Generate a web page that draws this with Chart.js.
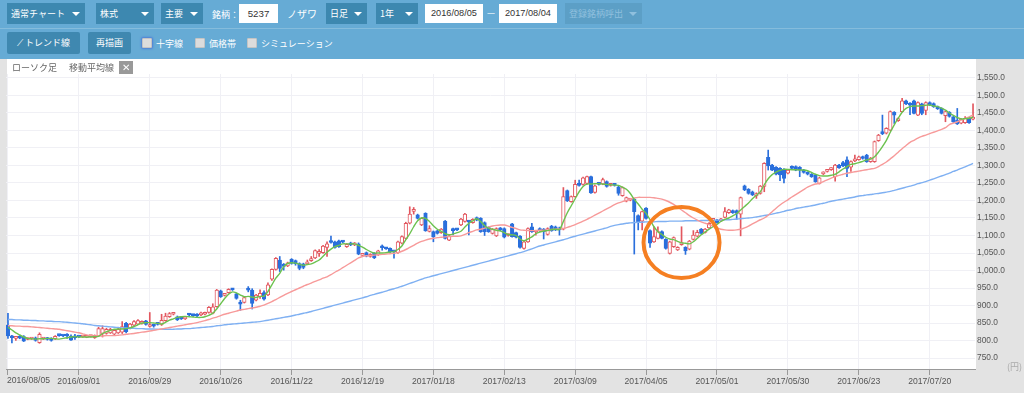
<!DOCTYPE html>
<html lang="ja">
<head>
<meta charset="utf-8">
<title>ローソク足</title>
<script src="https://cdn.jsdelivr.net/npm/chart.js@4"></script>
<style>
html, body { margin: 0; padding: 0; }
body {
    width: 1024px; height: 393px; overflow: hidden; position: relative;
    background: #e3e3e3;
    font-family: "Noto Sans CJK JP", "Liberation Sans", sans-serif;
    font-size: 9px; color: #fff;
}
.bar { position: absolute; left: 0; top: 0; width: 1024px; height: 59px; background: #66abd5; }
.rule { position: absolute; left: 0; top: 28px; width: 1024px; height: 1px; background: #85bcdc; }
.sel, .btn, .txt, .inp, .chk { position: absolute; box-sizing: border-box; white-space: nowrap; }
.sel { top: 3px; height: 21px; line-height: 21px; background: #3d88b0; padding-left: 4px; }
.sel::after {
    content: ""; position: absolute; right: 5px; top: 9px;
    border: 4px solid transparent; border-top: 4px solid #fff; border-bottom: 0;
}
.sel.off { background: #5c9fc6; color: #8fc0de; }
.sel.off::after { border-top-color: #8fc0de; }
.btn { top: 32px; height: 22px; line-height: 22px; background: #3f88b0; border-radius: 2px; text-align: center; }
.txt { line-height: 21px; }
.inp { top: 4px; height: 19px; line-height: 19px; background: #fff; color: #333; text-align: center; font-family: "Liberation Sans", sans-serif; font-size: 9.2px; }
.chk { top: 38px; width: 10px; height: 10px; background: #dcdcdc; border: 1px solid #c4c4c4; border-radius: 1px; }
.chk.focus { box-shadow: 0 0 2px 1px #4f7fd6; }
.plot { position: absolute; left: 7px; top: 59px; width: 969px; height: 310px; background: #fff; }
.tag { position: absolute; top: 61px; line-height: 13px; color: #666; font-size: 9px; }
.close {
    position: absolute; left: 119px; top: 61px; width: 14px; height: 13px; background: #999;
    color: #fff; text-align: center; line-height: 13px; font-size: 10px; font-family: "Liberation Sans", sans-serif;
}
.unit { position: absolute; left: 1007px; top: 361px; color: #aaa; font-size: 9px; line-height: 12px; }
canvas { position: absolute; left: 0; top: 0; }
</style>
</head>
<body>
<div class="bar"></div>
<div class="rule"></div>
<div class="sel" style="left:7px;width:78px">通常チャート</div>
<div class="sel" style="left:96px;width:58px">株式</div>
<div class="sel" style="left:161px;width:42px">主要</div>
<div class="txt" style="left:212px;top:4px">銘柄：</div>
<div class="inp" style="left:239px;width:39px;font-size:9.7px">5237</div>
<div class="txt" style="left:287px;top:3px;font-size:10px">ノザワ</div>
<div class="sel" style="left:326px;width:41px">日足</div>
<div class="sel" style="left:376px;width:42px">1年</div>
<div class="inp" style="left:425px;width:58px">2016/08/05</div>
<div class="txt" style="left:487px;top:2px">—</div>
<div class="inp" style="left:499px;width:58px">2017/08/04</div>
<div class="sel off" style="left:565px;width:77px">登録銘柄呼出</div>
<div class="btn" style="left:7px;width:73px">⟋ トレンド線</div>
<div class="btn" style="left:88px;width:43px">再描画</div>
<div class="chk focus" style="left:142px"></div>
<div class="txt" style="left:156px;top:33px">十字線</div>
<div class="chk" style="left:195px"></div>
<div class="txt" style="left:209px;top:33px">価格帯</div>
<div class="chk" style="left:247px"></div>
<div class="txt" style="left:261px;top:33px">シミュレーション</div>
<div class="plot"></div>
<canvas id="stockChart" width="1024" height="393"></canvas>
<div class="tag" style="left:12px">ローソク足</div>
<div class="tag" style="left:69px">移動平均線</div>
<div class="close">✕</div>
<div class="unit">(円)</div>
<script>
// one label every 18 sessions, starting at the first one
const tickLabels = ['2016/08/05', '2016/09/01', '2016/09/29', '2016/10/26', '2016/11/22', '2016/12/19', '2017/01/18',
    '2017/02/13', '2017/03/09', '2017/04/05', '2017/05/01', '2017/05/30', '2017/06/23', '2017/07/20'];
const tickEvery = 18;

const opens = [
    844,813,806,811,811,803,804,808,794,804,
    807,806,804,815,814,815,813,811,811,810,
    809,811,808,813,820,820,822,818,822,824,
    849,835,844,847,849,856,840,844,848,846,
    857,868,875,868,868,862,875,874,875,873,
    875,880,878,897,942,929,937,947,933,908,
    909,949,944,915,925,937,930,975,1003,1030,
    1014,1013,1032,1028,1020,1019,1019,1028,1036,1049,
    1051,1066,1082,1082,1085,1085,1068,1079,1073,1076,
    1043,1051,1040,1049,1045,1067,1064,1063,1055,1051,
    1078,1092,1135,1169,1159,1130,1163,1112,1111,1113,
    1108,1141,1087,1119,1118,1130,1140,1140,1137,1151,
    1149,1137,1123,1106,1099,1120,1120,1100,1133,1108,
    1098,1063,1082,1125,1110,1120,1118,1103,1127,1125,
    1122,1118,1228,1197,1211,1249,1246,1249,1268,1223,
    1249,1247,1254,1243,1245,1239,1214,1198,1201,1203,
    1157,1141,1178,1114,1082,1092,1111,1089,1049,1068,
    1059,1074,1066,1061,1089,1098,1118,1109,1122,1143,
    1144,1142,1152,1165,1171,1171,1161,1242,1232,1225,
    1213,1220,1240,1323,1301,1295,1292,1289,1278,1297,
    1297,1295,1287,1280,1275,1273,1249,1276,1283,1288,
    1268,1301,1308,1316,1295,1313,1317,1325,1330,1311,
    1311,1371,1394,1392,1401,1452,1428,1454,1485,1478,
    1485,1444,1476,1457,1480,1477,1468,1463,1442,1452,
    1439,1430,1421,1422,1435,1432
];
const closes = [
    813,808,809,807,798,805,806,800,818,806,
    803,800,812,814,813,813,801,808,810,811,
    813,812,815,834,834,832,832,829,832,840,
    825,847,854,857,853,846,843,841,846,858,
    870,877,876,859,862,866,873,871,870,879,
    879,895,896,944,925,931,946,945,920,904,
    923,944,906,930,935,918,959,1003,1035,1006,
    1012,1022,1020,1019,1006,1009,1025,1033,1057,1052,
    1070,1076,1080,1066,1068,1081,1075,1073,1078,1047,
    1046,1041,1046,1036,1056,1065,1062,1053,1053,1082,
    1097,1135,1161,1172,1149,1149,1114,1120,1097,1106,
    1118,1092,1099,1114,1116,1147,1161,1138,1146,1144,
    1111,1111,1111,1118,1120,1116,1095,1102,1097,1095,
    1066,1082,1120,1111,1113,1114,1111,1120,1114,1116,
    1116,1211,1199,1211,1246,1243,1265,1268,1222,1242,
    1246,1260,1240,1245,1243,1220,1237,1208,1202,1168,
    1137,1168,1149,1078,1097,1111,1092,1063,1082,1094,
    1066,1076,1056,1084,1101,1109,1106,1118,1135,1145,
    1137,1147,1168,1173,1165,1163,1208,1230,1220,1216,
    1220,1241,1306,1299,1287,1275,1273,1263,1287,1292,
    1287,1287,1280,1275,1268,1254,1265,1280,1286,1292,
    1301,1294,1299,1292,1311,1318,1325,1320,1311,1321,
    1368,1387,1391,1406,1454,1444,1434,1485,1476,1472,
    1449,1480,1449,1480,1473,1468,1462,1449,1454,1440,
    1425,1419,1432,1435,1422,1438
];
const highs = [
    878,815,810,814,814,807,808,810,822,808,
    809,808,814,816,815,820,816,818,812,812,
    815,813,816,838,842,835,835,832,835,854,
    852,849,857,860,856,858,880,846,849,875,
    878,880,878,870,869,868,877,875,877,881,
    881,897,905,946,944,933,948,949,935,915,
    926,954,948,932,945,942,965,1005,1037,1040,
    1020,1024,1034,1030,1022,1021,1030,1040,1059,1060,
    1072,1082,1098,1084,1087,1084,1077,1081,1080,1079,
    1048,1053,1048,1051,1058,1073,1066,1065,1056,1084,
    1099,1138,1182,1180,1161,1151,1165,1128,1113,1115,
    1120,1143,1101,1121,1120,1149,1163,1142,1148,1153,
    1151,1139,1125,1120,1122,1123,1122,1104,1135,1110,
    1100,1084,1122,1135,1115,1122,1120,1122,1129,1127,
    1124,1237,1230,1213,1258,1258,1267,1270,1270,1244,
    1252,1264,1256,1247,1247,1241,1239,1210,1204,1206,
    1159,1170,1180,1116,1125,1125,1113,1091,1084,1096,
    1068,1125,1068,1086,1114,1115,1120,1120,1137,1147,
    1146,1149,1180,1175,1173,1173,1210,1244,1234,1227,
    1222,1243,1308,1344,1303,1297,1294,1291,1289,1299,
    1299,1297,1289,1282,1277,1275,1267,1282,1288,1294,
    1303,1303,1312,1325,1313,1330,1327,1327,1332,1323,
    1370,1389,1444,1408,1456,1454,1436,1492,1487,1480,
    1487,1482,1478,1482,1482,1479,1470,1465,1456,1454,
    1441,1463,1434,1440,1437,1476
];
const lows = [
    806,793,800,805,797,802,803,798,792,803,
    801,798,803,812,811,806,800,803,808,809,
    808,810,806,811,810,818,820,816,820,820,
    822,833,842,845,847,844,838,838,844,843,
    855,866,873,857,860,860,871,869,868,871,
    873,878,876,895,923,927,935,943,918,886,
    907,939,890,913,920,915,928,972,1001,997,
    1001,1011,1018,1015,1002,1005,1017,1026,1034,1040,
    1049,1040,1078,1064,1066,1079,1066,1071,1071,1045,
    1041,1039,1038,1034,1043,1058,1060,1051,1035,1049,
    1076,1090,1133,1161,1147,1128,1112,1110,1082,1104,
    1106,1090,1085,1102,1114,1128,1138,1102,1135,1142,
    1109,1100,1109,1104,1097,1113,1093,1098,1095,1093,
    1064,1061,1080,1109,1101,1112,1090,1101,1112,1114,
    1101,1116,1197,1195,1209,1241,1244,1247,1220,1221,
    1244,1245,1238,1241,1241,1215,1212,1196,1199,1047,
    1116,1116,1147,1066,1080,1090,1090,1061,1047,1066,
    1057,1072,1046,1059,1087,1096,1104,1107,1120,1141,
    1135,1140,1150,1163,1163,1146,1099,1228,1218,1214,
    1206,1218,1225,1287,1285,1273,1257,1250,1276,1290,
    1285,1268,1278,1273,1266,1252,1247,1274,1281,1286,
    1255,1292,1297,1268,1283,1311,1315,1318,1309,1309,
    1309,1369,1388,1390,1399,1420,1426,1452,1474,1445,
    1447,1442,1445,1445,1471,1466,1460,1447,1425,1438,
    1423,1417,1419,1420,1420,1430
];
const ma5 = [
    838,830,822,816,810,806,805,804,805,805,
    806,806,805,804,806,808,810,811,810,810,
    810,810,811,812,820,825,829,832,833,833,
    834,836,840,845,850,851,851,850,849,847,
    852,858,862,866,868,869,868,867,866,866,
    868,872,878,890,905,920,932,939,936,930,
    925,926,924,923,926,927,940,959,978,992,
    1011,1020,1022,1021,1018,1015,1017,1019,1024,1030,
    1041,1052,1061,1068,1072,1076,1076,1076,1076,1072,
    1067,1060,1054,1050,1050,1050,1051,1053,1054,1060,
    1070,1088,1105,1125,1142,1150,1149,1140,1128,1118,
    1112,1105,1102,1104,1108,1112,1124,1135,1142,1148,
    1140,1128,1121,1118,1115,1113,1108,1103,1102,1100,
    1090,1085,1090,1096,1105,1110,1113,1114,1117,1118,
    1117,1140,1165,1185,1205,1225,1240,1247,1247,1248,
    1248,1247,1246,1245,1244,1243,1238,1232,1220,1203,
    1190,1175,1163,1145,1125,1111,1103,1095,1090,1088,
    1083,1079,1078,1076,1082,1092,1102,1110,1118,1125,
    1132,1140,1146,1150,1156,1163,1173,1183,1193,1205,
    1215,1225,1245,1262,1274,1281,1286,1289,1289,1288,
    1288,1287,1287,1285,1280,1275,1271,1270,1270,1272,
    1275,1282,1290,1297,1303,1305,1308,1312,1316,1318,
    1325,1338,1354,1372,1395,1416,1435,1452,1463,1468,
    1470,1470,1471,1472,1473,1470,1468,1464,1458,1450,
    1443,1437,1433,1434,1435,1438
];
const ma25 = [
    842,842,841,841,840,840,839,838,837,836,
    835,834,833,832,830,828,826,824,822,819,
    816,814,813,813,813,814,814,814,815,816,
    818,819,820,822,824,825,827,829,831,833,
    835,837,839,841,843,845,847,849,851,854,
    857,860,864,867,871,875,878,881,884,887,
    889,891,893,895,898,901,906,911,917,923,
    929,935,940,945,950,955,960,964,969,973,
    978,982,988,995,1001,1008,1015,1022,1029,1036,
    1040,1042,1043,1044,1045,1046,1047,1048,1049,1051,
    1055,1060,1066,1072,1078,1083,1087,1090,1092,1094,
    1095,1096,1097,1098,1098,1099,1103,1108,1112,1116,
    1118,1121,1124,1127,1129,1130,1130,1127,1123,1120,
    1116,1115,1114,1114,1114,1115,1115,1116,1117,1118,
    1119,1120,1123,1127,1131,1136,1141,1146,1152,1158,
    1164,1170,1176,1182,1188,1193,1197,1200,1204,1207,
    1209,1209,1209,1209,1208,1206,1204,1200,1195,1189,
    1181,1173,1165,1157,1150,1144,1139,1135,1131,1127,
    1122,1118,1116,1115,1115,1116,1118,1122,1127,1133,
    1139,1145,1150,1158,1168,1178,1187,1195,1202,1210,
    1217,1224,1231,1238,1243,1247,1249,1254,1259,1264,
    1268,1272,1275,1278,1280,1282,1284,1286,1288,1290,
    1292,1297,1303,1310,1319,1328,1338,1348,1357,1366,
    1372,1378,1383,1387,1391,1395,1399,1403,1408,1417,
    1421,1425,1430,1434,1439,1444
];
const ma75 = [
    860,860,859,859,858,858,857,857,856,856,
    855,855,854,854,853,852,851,850,849,848,
    846,845,843,842,841,840,839,838,837,836,
    836,835,835,834,834,833,833,833,832,832,
    832,832,832,833,833,834,834,835,836,837,
    838,839,840,842,843,845,846,847,848,849,
    850,851,852,853,854,856,858,860,862,864,
    866,868,870,873,875,878,880,883,886,889,
    892,895,898,901,904,907,910,913,916,919,
    922,925,929,932,935,938,941,945,948,951,
    955,959,963,967,971,975,979,982,985,988,
    991,994,997,1000,1003,1006,1009,1012,1015,1018,
    1021,1024,1027,1030,1033,1036,1039,1042,1045,1048,
    1051,1054,1058,1062,1066,1070,1073,1076,1079,1082,
    1085,1088,1091,1095,1098,1101,1104,1107,1110,1113,
    1116,1119,1122,1126,1129,1131,1133,1135,1136,1137,
    1138,1138,1139,1139,1139,1140,1140,1140,1141,1141,
    1141,1141,1142,1142,1142,1142,1143,1143,1143,1143,
    1144,1144,1145,1145,1146,1147,1148,1149,1150,1151,
    1153,1155,1157,1159,1161,1164,1166,1169,1172,1174,
    1177,1179,1181,1183,1185,1187,1190,1192,1195,1198,
    1200,1202,1204,1206,1208,1210,1213,1214,1216,1217,
    1219,1220,1222,1224,1226,1229,1232,1235,1238,1241,
    1244,1248,1251,1254,1258,1262,1266,1270,1274,1278,
    1283,1287,1292,1296,1301,1306
];

// hand drawn circle on the April dip
const circleSession = 171;
const circlePrice = 1080;

const sessions = closes.map((_, i) => i);
const upRed = '#e2575f';
const downBlue = '#2a6fdc';
const isUp = i => closes[i] >= opens[i];

const circlePlugin = {
    id: 'circle',
    afterDraw(chart) {
        const { ctx, scales } = chart;
        ctx.save();
        ctx.strokeStyle = '#f57f22';
        ctx.lineWidth = 4;
        ctx.beginPath();
        ctx.ellipse(scales.x.getPixelForValue(circleSession), scales.y.getPixelForValue(circlePrice), 38, 35.5, 0, 0, Math.PI * 2);
        ctx.stroke();
        ctx.restore();
    }
};

// the first date label sits against the left edge, not centred on its tick
const firstLabelPlugin = {
    id: 'firstLabel',
    afterDraw(chart) {
        const { ctx, chartArea } = chart;
        ctx.save();
        ctx.font = '8.6px "Liberation Sans"';
        ctx.fillStyle = '#555';
        ctx.textBaseline = 'middle';
        ctx.fillText(tickLabels[0], 7, chartArea.bottom + 12);
        ctx.restore();
    }
};

new Chart(document.getElementById('stockChart'), {
    data: {
        labels: sessions,
        datasets: [
            { type: 'line', label: '5日', data: ma5, borderColor: '#6cc24f', borderWidth: 1.4, pointRadius: 0, tension: 0.3, order: 0 },
            { type: 'line', label: '25日', data: ma25, borderColor: '#f79a9a', borderWidth: 1.4, pointRadius: 0, tension: 0.3, order: 0 },
            { type: 'line', label: '75日', data: ma75, borderColor: '#7fb0f2', borderWidth: 1.4, pointRadius: 0, tension: 0.3, order: 0 },
            {
                type: 'bar', label: 'ローソク足', grouped: false, order: 1, barThickness: 3.6, minBarLength: 2,
                data: sessions.map(i => [opens[i], closes[i]]),
                backgroundColor: sessions.map(i => isUp(i) ? '#fff' : downBlue),
                borderColor: sessions.map(i => isUp(i) ? upRed : downBlue),
                borderWidth: 1, borderSkipped: false
            },
            {
                type: 'bar', label: '高安', grouped: false, order: 2, barThickness: 1,
                data: sessions.map(i => [lows[i], highs[i]]),
                backgroundColor: sessions.map(i => isUp(i) ? upRed : downBlue),
                borderWidth: 0
            }
        ]
    },
    plugins: [circlePlugin, firstLabelPlugin],
    options: {
        responsive: false,
        animation: false,
        layout: { padding: { left: 6, top: 74, right: 0, bottom: 0 } },
        plugins: { legend: { display: false }, tooltip: { enabled: false } },
        scales: {
            x: {
                type: 'category',
                offset: true,
                afterFit: s => { s.height = 24; },
                afterBuildTicks: s => { s.ticks = s.ticks.filter(t => t.value % tickEvery === 0); },
                grid: { offset: false, color: '#f0f0f5', tickColor: '#999', tickLength: 6 },
                border: { color: '#999' },
                ticks: {
                    autoSkip: false, maxRotation: 0, padding: 1, color: '#555',
                    font: { family: '"Liberation Sans"', size: 8.6 },
                    callback: v => v === 0 ? '' : tickLabels[v / tickEvery]
                }
            },
            y: {
                position: 'right',
                min: 718.6,
                max: 1561.4,
                afterFit: s => { s.width = 49; },
                grid: { color: '#f0f0f5', drawTicks: false },
                border: { display: false },
                ticks: {
                    stepSize: 50, includeBounds: false, padding: 2, color: '#555',
                    font: { family: '"Liberation Sans"', size: 8.4 },
                    callback: v => v.toLocaleString('en-US', { minimumFractionDigits: 1 })
                }
            }
        }
    }
});
</script>
</body>
</html>
